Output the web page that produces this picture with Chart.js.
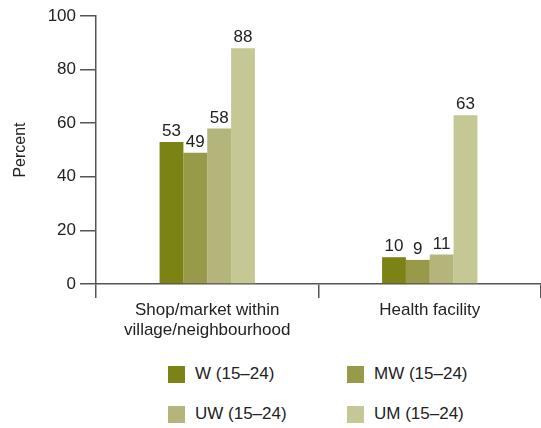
<!DOCTYPE html>
<html>
<head>
<meta charset="utf-8">
<script src="https://cdn.jsdelivr.net/npm/chart.js@4"></script>
<style>
  html, body { margin: 0; padding: 0; background: #fff; }
  body { width: 541px; height: 428px; position: relative; overflow: hidden; font-family: "Liberation Sans", Arial, sans-serif; color: #222; }
  #wrap { position: absolute; left: 0; top: 0; width: 541px; height: 350px; }
  .legend { position: absolute; left: 168px; top: 365px; display: grid; grid-template-columns: 179px 179px; row-gap: 22px; margin: 0; padding: 0; list-style: none; }
  .legend li { display: flex; align-items: center; font-size: 17px; height: 18px; }
  .legend .box { width: 17px; height: 17px; margin-right: 10px; }
</style>
</head>
<body>
<div id="wrap"><canvas id="myChart"></canvas></div>
<ul class="legend"></ul>
<script>
const categories = [["Shop/market within", "village/neighbourhood"], "Health facility"];
const seriesNames = ["W (15\u201324)", "MW (15\u201324)", "UW (15\u201324)", "UM (15\u201324)"];
const wValues = [53, 10];
const mwValues = [49, 9];
const uwValues = [58, 11];
const umValues = [88, 63];
const yTicks = [0, 20, 40, 60, 80, 100];
const colors = ["#7a8314", "#979a48", "#b3b57b", "#c5c795"];

const seriesValues = [wValues, mwValues, uwValues, umValues];
const axisColor = "#555";
const font = { family: "'Liberation Sans', Arial, sans-serif", size: 17 };

// value labels on top of the bars
const valueLabels = {
  id: "valueLabels",
  afterDatasetsDraw(chart) {
    const c = chart.ctx;
    c.save();
    c.font = "17px 'Liberation Sans', Arial, sans-serif";
    c.fillStyle = "#222";
    c.textAlign = "center";
    c.textBaseline = "bottom";
    chart.data.datasets.forEach((ds, i) => {
      chart.getDatasetMeta(i).data.forEach((bar, j) => {
        c.fillText(ds.data[j], bar.x, bar.y - 2);
      });
    });
    c.restore();
  },
};

const ctx = document.getElementById("myChart").getContext("2d");
new Chart(ctx, {
  type: "bar",
  data: {
    labels: categories,
    datasets: seriesNames.map((name, i) => ({
      label: name,
      data: seriesValues[i],
      backgroundColor: colors[i],
      borderWidth: 0,
    })),
  },
  options: {
    responsive: true,
    maintainAspectRatio: false,
    animation: false,
    datasets: { bar: { categoryPercentage: 0.4286, barPercentage: 1 } },
    layout: { padding: { top: 16, right: 0, left: 0, bottom: 0 } },
    plugins: { legend: { display: false }, tooltip: { enabled: false } },
    scales: {
      x: {
        grid: { offset: true, drawOnChartArea: false, drawTicks: true, tickLength: 14, color: axisColor, lineWidth: 1.5 },
        border: { color: axisColor, width: 1.5 },
        ticks: { color: "#222", font: font, padding: 2, maxRotation: 0 },
        afterFit(scale) { scale.height = 66; },
      },
      y: {
        min: 0,
        max: 100,
        afterBuildTicks(scale) { scale.ticks = yTicks.map((v) => ({ value: v })); },
        grid: { drawOnChartArea: false, drawTicks: true, tickLength: 16, color: axisColor, lineWidth: 1.5 },
        border: { color: axisColor, width: 1.5 },
        ticks: { color: "#222", font: font, padding: 4 },
        title: { display: true, text: "Percent", color: "#222", font: { family: font.family, size: 16 }, padding: { top: 11, bottom: 0 } },
        afterFit(scale) { scale.width = 96; },
      },
    },
  },
  plugins: [valueLabels],
});

const ul = document.querySelector(".legend");
seriesNames.forEach((name, i) => {
  const li = document.createElement("li");
  li.innerHTML = `<span class="box" style="background:${colors[i]}"></span>${name}`;
  ul.appendChild(li);
});
</script>
</body>
</html>
